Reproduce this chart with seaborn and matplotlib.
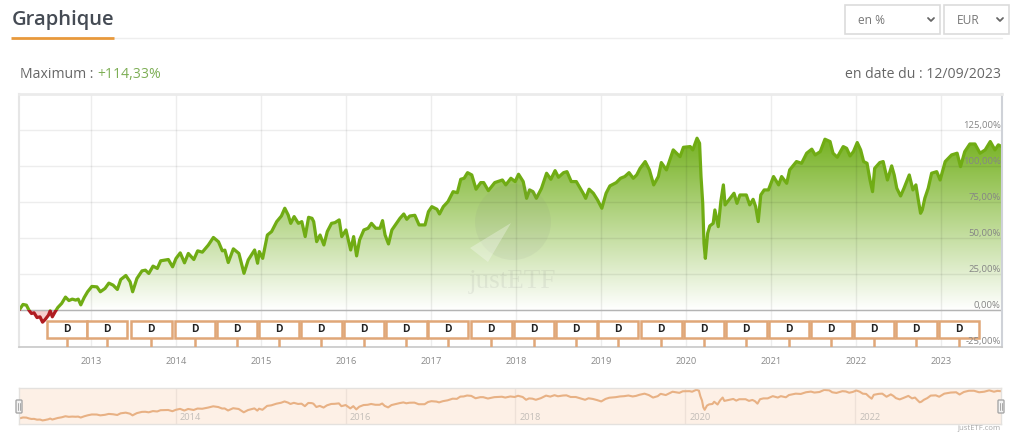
# -*- coding: utf-8 -*-
# justETF style performance chart
import numpy as np
import pandas as pd
import seaborn as sns
import matplotlib.pyplot as plt
from matplotlib.colors import LinearSegmentedColormap
from matplotlib.patches import Circle, Polygon, Rectangle, FancyBboxPatch

# %% Data
dates = [2012.16, 2012.20, 2012.24, 2012.27, 2012.30, 2012.33, 2012.365, 2012.40, 2012.43, 2012.46,
         2012.50, 2012.52, 2012.545, 2012.58, 2012.61, 2012.655, 2012.70, 2012.74, 2012.78, 2012.82,
         2012.85, 2012.88, 2012.92, 2012.96, 2013.01, 2013.07, 2013.11, 2013.165, 2013.21, 2013.26,
         2013.31, 2013.35, 2013.41, 2013.46, 2013.49, 2013.54, 2013.60, 2013.64, 2013.68, 2013.73,
         2013.78, 2013.82, 2013.91, 2013.96, 2014.00, 2014.05, 2014.10, 2014.145, 2014.21, 2014.255,
         2014.31, 2014.38, 2014.44, 2014.50, 2014.545, 2014.575, 2014.615, 2014.675, 2014.74, 2014.80,
         2014.85, 2014.925, 2014.96, 2014.98, 2015.02, 2015.075, 2015.125, 2015.185, 2015.24, 2015.28,
         2015.32, 2015.35, 2015.39, 2015.44, 2015.48, 2015.52, 2015.56, 2015.60, 2015.62, 2015.655,
         2015.695, 2015.74, 2015.78, 2015.83, 2015.87, 2015.92, 2015.95, 2016.00, 2016.055, 2016.09,
         2016.125, 2016.16, 2016.21, 2016.26, 2016.30, 2016.35, 2016.40, 2016.43, 2016.46, 2016.50,
         2016.54, 2016.60, 2016.635, 2016.68, 2016.715, 2016.75, 2016.81, 2016.86, 2016.93, 2016.97,
         2017.01, 2017.07, 2017.10, 2017.145, 2017.20, 2017.26, 2017.31, 2017.35, 2017.39, 2017.43,
         2017.48, 2017.53, 2017.585, 2017.62, 2017.675, 2017.75, 2017.84, 2017.88, 2017.94, 2017.99,
         2018.03, 2018.085, 2018.125, 2018.16, 2018.20, 2018.24, 2018.30, 2018.36, 2018.41, 2018.46,
         2018.50, 2018.56, 2018.60, 2018.65, 2018.71, 2018.79, 2018.82, 2018.86, 2018.91, 2018.96,
         2019.01, 2019.06, 2019.105, 2019.18, 2019.23, 2019.28, 2019.33, 2019.38, 2019.42, 2019.46,
         2019.52, 2019.57, 2019.62, 2019.675, 2019.71, 2019.77, 2019.85, 2019.93, 2019.97, 2020.05,
         2020.08, 2020.13, 2020.16, 2020.177, 2020.197, 2020.212, 2020.228, 2020.255, 2020.28, 2020.32,
         2020.34, 2020.38, 2020.41, 2020.44, 2020.46, 2020.52, 2020.565, 2020.60, 2020.635, 2020.71,
         2020.75, 2020.79, 2020.82, 2020.85, 2020.88, 2020.92, 2020.97, 2021.03, 2021.09, 2021.125,
         2021.185, 2021.22, 2021.30, 2021.36, 2021.42, 2021.48, 2021.52, 2021.58, 2021.635, 2021.695,
         2021.73, 2021.78, 2021.85, 2021.89, 2021.93, 2021.97, 2022.015, 2022.055, 2022.09, 2022.13,
         2022.165, 2022.195, 2022.22, 2022.28, 2022.32, 2022.37, 2022.42, 2022.45, 2022.48, 2022.525,
         2022.565, 2022.627, 2022.67, 2022.705, 2022.73, 2022.76, 2022.78, 2022.81, 2022.85, 2022.89,
         2022.95, 2022.99, 2023.05, 2023.125, 2023.19, 2023.23, 2023.28, 2023.34, 2023.40, 2023.46,
         2023.52, 2023.58, 2023.635, 2023.675, 2023.715]
perf = [0.7, 4.2, 3.7, 0.2, -2.1, -1.6, -4.9, -4.4, -8.1, -6.3,
        -3.2, -0.2, -4.4, -0.7, 2.1, 4.9, 9.3, 6.9, 7.9, 7.2,
        7.9, 3.9, 9.0, 13.0, 16.7, 16.4, 13.0, 15.3, 19.0, 17.6,
        14.6, 21.5, 24.3, 19.9, 13.0, 22.2, 27.5, 28.0, 25.7, 30.8,
        29.2, 34.5, 35.4, 30.3, 36.1, 40.0, 33.1, 39.6, 35.4, 41.4,
        40.5, 45.4, 50.7, 47.7, 41.4, 41.9, 33.3, 42.8, 39.6, 25.8,
        35.1, 42.0, 32.8, 40.9, 36.2, 52.4, 54.8, 61.7, 65.6, 71.0,
        66.3, 60.5, 65.2, 60.5, 61.7, 51.3, 64.7, 64.0, 61.7, 47.8,
        52.4, 45.5, 54.8, 60.5, 61.0, 62.9, 51.3, 55.9, 42.0, 51.3,
        37.9, 49.0, 55.9, 57.1, 60.5, 57.1, 57.1, 62.4, 52.4, 46.2,
        55.9, 61.0, 64.0, 67.0, 63.3, 65.6, 66.1, 59.4, 59.4, 68.6,
        72.1, 70.3, 67.0, 72.1, 75.6, 82.5, 81.8, 91.1, 91.8, 95.7,
        94.1, 84.2, 88.8, 88.8, 83.2, 88.8, 90.6, 87.2, 91.8, 89.5,
        94.6, 89.5, 77.9, 83.7, 82.5, 77.9, 84.8, 95.3, 91.1, 97.1,
        92.5, 95.7, 96.4, 89.5, 89.5, 81.4, 77.9, 84.2, 81.4, 76.7,
        71.0, 81.4, 86.5, 88.8, 91.8, 93.0, 95.7, 91.8, 94.1, 98.7,
        103.4, 97.6, 87.2, 93.0, 102.7, 97.6, 111.5, 106.8, 113.3, 113.8,
        111.5, 119.6, 116.1, 93.0, 74.4, 46.6, 36.2, 53.6, 58.7, 60.5,
        69.8, 58.2, 75.6, 87.2, 73.3, 77.9, 81.4, 74.4, 80.2, 80.2,
        73.3, 77.2, 72.1, 61.7, 80.2, 83.7, 83.7, 93.0, 87.2, 93.0,
        88.3, 97.6, 103.4, 102.2, 109.2, 112.0, 108.0, 110.3, 118.9, 117.3,
        109.2, 106.4, 113.8, 112.6, 107.3, 110.3, 116.6, 111.5, 103.4, 102.2,
        90.6, 82.5, 98.7, 102.7, 103.4, 90.6, 100.4, 94.1, 84.9, 79.5,
        84.9, 94.1, 83.7, 87.2, 77.9, 67.5, 69.8, 77.9, 84.9, 95.3,
        96.4, 90.6, 103.4, 108.0, 109.2, 99.9, 110.3, 115.6, 115.6, 109.2,
        111.5, 117.3, 111.5, 115.0, 113.8]

# dividend flags, March and September
flag_dates = [2012.72, 2013.19, 2013.71, 2014.22, 2014.72, 2015.21, 2015.71, 2016.21, 2016.71, 2017.20, 2017.71,
              2018.21, 2018.71, 2019.20, 2019.71, 2020.21, 2020.71, 2021.21, 2021.71, 2022.21, 2022.71, 2023.21]
flag_label = "D"

year_ticks = list(range(2013, 2024))
nav_ticks = [2014, 2016, 2018, 2020, 2022]
pct_ticks = [-25, 0, 25, 50, 75, 100, 125]
pct_labels = ["-25,00%", "0,00%", "25,00%", "50,00%", "75,00%", "100,00%", "125,00%"]

df = pd.DataFrame({"date": dates, "perf": perf})

# %% Figure setup
sns.set_theme(style="white")
plt.rcParams["font.family"] = ["Open Sans", "DejaVu Sans"]
W, H = 1024, 441
fig = plt.figure(figsize=(W / 100, H / 100), dpi=100, facecolor="white")
xlim = (2012.153, 2023.718)


def px_axes(left, top, right, bottom):
    return fig.add_axes([left / W, 1 - bottom / H, (right - left) / W, (bottom - top) / H])


# %% Main chart
ax = px_axes(19, 94, 1002, 346.5)
ax.set_axisbelow("line")

# gradient under the curve, clipped to the positive part
green_cmap = LinearSegmentedColormap.from_list("fade", ["#ffffff", "#73b01d"])
grad = ax.imshow(np.linspace(1, 0, 256).reshape(-1, 1), cmap=green_cmap, aspect="auto",
                 extent=[xlim[0], xlim[1], 0, 122], vmin=0, vmax=1, zorder=0)
shape = ax.fill_between(df["date"], df["perf"].clip(lower=0), 0, facecolor="none", edgecolor="none")
grad.set_clip_path(shape.get_paths()[0], transform=ax.transData)
ax.fill_between(df["date"], df["perf"].clip(upper=0), 0, color="#f6cfd0", linewidth=0, zorder=0.5)

sns.lineplot(data=df, x="date", y="perf", estimator=None, sort=False, color="#70ac14", linewidth=2.3, ax=ax)
sns.lineplot(data=df, x="date", y="perf", estimator=None, sort=False, color="#b01c22", linewidth=2.3, ax=ax)
ax.lines[0].set_clip_path(Rectangle((xlim[0], 0), xlim[1] - xlim[0], 160, transform=ax.transData))
ax.lines[1].set_clip_path(Rectangle((xlim[0], -25), xlim[1] - xlim[0], 25, transform=ax.transData))

ax.set_xlim(xlim)
ax.set_ylim(-25, 150.3)
ax.set_xticks(year_ticks)
ax.set_yticks(pct_ticks)
ax.set_yticklabels([])
ax.grid(True, color="black", alpha=0.07, linewidth=1)
ax.axhline(0, color="#b4b4b4", linewidth=1, zorder=1.6)
ax.tick_params(axis="both", length=0)
ax.tick_params(axis="x", labelsize=6.7, labelcolor="#8a8a8a", pad=7.5)
ax.set_xlabel("")
ax.set_ylabel("")
for name, col, lw in [("top", "#ebebeb", 2), ("left", "#e6e6e6", 1.5), ("right", "#cfd2d8", 1.5), ("bottom", "#c8c8c8", 1.2)]:
    ax.spines[name].set_color(col)
    ax.spines[name].set_linewidth(lw)

for val, lab in zip(pct_ticks, pct_labels):
    ax.annotate(lab, xy=(1, val), xycoords=ax.get_yaxis_transform(), xytext=(-1, 0.3), textcoords="offset points",
                ha="right", va="bottom", fontsize=6.8, color="#858585", zorder=6)

# dividend flags
ax.bar(flag_dates, [12.4] * len(flag_dates), bottom=-19.4, width=0.475, facecolor="white",
       edgecolor="#e0a778", linewidth=1.8, zorder=4)
ax.vlines(flag_dates, -25, -19.4, color="#e0a778", linewidth=1.8, zorder=3.5)
for d in flag_dates:
    ax.text(d, -13.2, flag_label, ha="center", va="center", fontsize=7.4, fontweight="bold", color="#222222", zorder=5)

# %% Navigator
nav = px_axes(19, 388, 1001, 424)
nav.set_facecolor("#fdf0e6")
sns.lineplot(data=df, x="date", y="perf", estimator=None, sort=False, color="#e8b184", linewidth=1.5, ax=nav)
nav.set_xlim(xlim)
nav.set_ylim(-23, 127)
nav.set_xticks(nav_ticks)
nav.set_yticks([])
nav.set_xticklabels([])
nav.grid(True, axis="x", color="black", alpha=0.06, linewidth=1)
nav.tick_params(length=0)
nav.set_xlabel("")
nav.set_ylabel("")
for sp in nav.spines.values():
    sp.set_color("#e4e1de")
    sp.set_linewidth(1)
for yr in nav_ticks:
    nav.annotate(str(yr), xy=(yr, 0), xycoords=nav.get_xaxis_transform(), xytext=(3, 1.5), textcoords="offset points",
                 ha="left", va="bottom", fontsize=6.7, color="#c2bdb8")

# %% Page furniture in pixel coordinates
page = fig.add_axes([0, 0, 1, 1], zorder=10)
page.set_xlim(0, W)
page.set_ylim(H, 0)
page.axis("off")

# header
page.text(12, 20, "Graphique", fontsize=14.5, fontweight=600, color="#454b54", va="center", ha="left")
page.plot([114, 1002], [37.5, 37.5], color="#eeeeee", linewidth=1)
page.plot([11, 114], [38, 38], color="#e8993c", linewidth=2, solid_capstyle="butt")

# dropdowns
for x0, x1, lab, tx in [(845, 940, "en %", 858), (944, 1009, "EUR", 957)]:
    page.add_patch(Rectangle((x0, 5), x1 - x0, 29, facecolor="white", edgecolor="#dcdcdc", linewidth=1.2))
    page.text(tx, 20, lab, fontsize=8.6, color="#777777", va="center", ha="left")
    page.plot([x1 - 12, x1 - 9, x1 - 6], [18, 21, 18], color="#666666", linewidth=1.3)

# max and date line
t = page.text(20, 74.5, "Maximum : ", fontsize=10.1, color="#666666", va="center", ha="left")
page.annotate("+114,33%", xy=(1, 0.5), xycoords=t, va="center", ha="left", fontsize=10.1, color="#7dae55")
page.text(1001, 74.5, "en date du : 12/09/2023", fontsize=10.1, color="#666666", va="center", ha="right")

# watermark
page.add_patch(Circle((513, 222), 38, facecolor="#808080", alpha=0.085, linewidth=0))
page.add_patch(Polygon([(511, 223), (470, 248), (488, 262)], facecolor="#ffffff", alpha=0.3, linewidth=0))
page.text(512, 281, "justETF", fontsize=19.5, family=["Liberation Serif"], color="#808080", alpha=0.12,
          va="center", ha="center")

# navigator handles
for hx in (19, 1001):
    page.add_patch(FancyBboxPatch((hx - 3, 400), 6, 13, boxstyle="round,pad=0,rounding_size=1",
                                  facecolor="#f2f2f2", edgecolor="#a8a8a8", linewidth=1))
    page.plot([hx - 1, hx - 1], [403, 410], color="#a8a8a8", linewidth=0.7)
    page.plot([hx + 1, hx + 1], [403, 410], color="#a8a8a8", linewidth=0.7)

page.text(1001, 429, "justETF.com", fontsize=5.6, color="#a8a8a8", va="center", ha="right")

fig.savefig("out.png", dpi=100)
